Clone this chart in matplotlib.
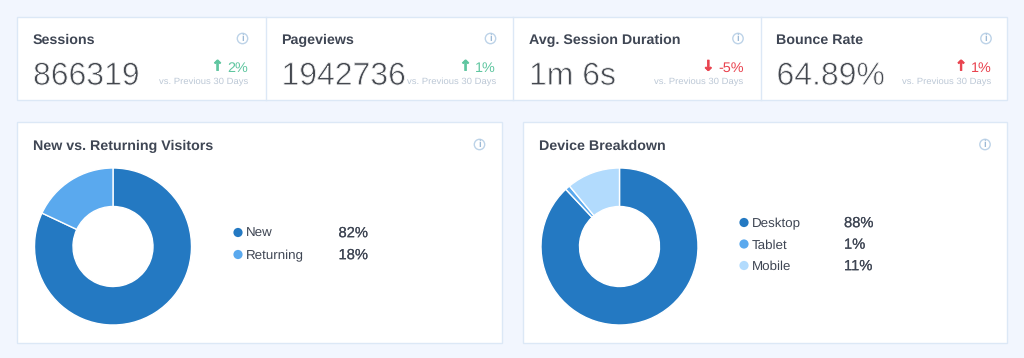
import matplotlib
matplotlib.use('Agg')
import matplotlib.pyplot as plt
import matplotlib.patheffects as pe
from matplotlib.patches import Rectangle, Circle

# ---- data ----
metric_titles = ['Sessions', 'Pageviews', 'Avg. Session Duration', 'Bounce Rate']
metric_values = ['866319', '1942736', '1m 6s', '64.89%']
metric_deltas = ['2%', '1%', '-5%', '1%']
metric_arrows = ['↑', '↑', '↓', '↑']
metric_good = [True, True, False, False]
compare_label = 'vs. Previous 30 Days'

visitor_title = 'New vs. Returning Visitors'
visitor_labels = ['New', 'Returning']
visitor_values = [82, 18]
visitor_colors = ['#2479C2', '#5AA9EE']

device_title = 'Device Breakdown'
device_labels = ['Desktop', 'Tablet', 'Mobile']
device_values = [88, 1, 11]
device_colors = ['#2479C2', '#5AA9EE', '#B2DBFD']

plt.rcParams['font.family'] = ['Liberation Sans', 'DejaVu Sans']
plt.rcParams['text.hinting'] = 'no_hinting'
plt.rcParams['text.hinting_factor'] = 8
W, H = 1024, 358
BG = '#F2F6FE'; BORDER = '#DCE8F6'; DARK = '#3F4654'; NUM = '#44484F'; MUTED = '#BCC8D6'
GREEN = '#5FC6A0'; RED = '#E9434F'; ICON = '#BDD3E8'

fig = plt.figure(figsize=(W/100, H/100), dpi=100, facecolor=BG)
ax = fig.add_axes([0, 0, 1, 1])
ax.set_xlim(0, W); ax.set_ylim(H, 0); ax.axis('off')
thin = [pe.Normal(), pe.Stroke(linewidth=0.6, foreground='white')]


def heavier(color, lw):
    return [pe.Stroke(linewidth=lw, foreground=color), pe.Normal()]


def card(x0, y0, x1, y1):
    ax.add_patch(Rectangle((x0, y0), x1-x0, y1-y0, fc='white', ec=BORDER, lw=1))


def info(cx, cy):
    ax.add_patch(Circle((cx, cy), 5.2, fc='white', ec=ICON, lw=1))
    ax.text(cx, cy+0.3, 'i', fontsize=7, color='#9DBAD6', ha='center', va='center', fontweight='bold')


card(16.5, 16.5, 1007, 100)
for dx in (265.5, 512.5, 760.5):
    ax.plot([dx, dx], [16.5, 100], color=BORDER, lw=1)

title_x = [33, 281.5, 529, 776.5]
right_x = [248, 496, 743.5, 991.5]
for i in range(4):
    ax.text(title_x[i], 44, metric_titles[i], fontsize=10.3, fontweight='bold', color=DARK, va='baseline', ha='left')
    ax.text(title_x[i], 84.8, metric_values[i], fontsize=23, color=NUM, va='baseline', ha='left', path_effects=thin)
    info(right_x[i]-5.5, 38.5)
    c = GREEN if metric_good[i] else RED
    t = ax.text(right_x[i], 71.5, metric_deltas[i], fontsize=10.4, color=c, va='baseline', ha='right')
    fig.canvas.draw()
    bb = t.get_window_extent()
    ax.text(bb.x0-3.5, 66.5, metric_arrows[i], fontsize=10.5, fontweight='bold', color=c, va='center', ha='right',
            family='DejaVu Sans', path_effects=heavier(c, 0.5))
    ax.text(right_x[i], 84, compare_label, fontsize=6.8, color=MUTED, va='baseline', ha='right')

card(16.5, 122, 502, 343)
card(522.5, 122, 1007, 343)
ax.text(33, 150, visitor_title, fontsize=10.3, fontweight='bold', color=DARK, va='baseline')
ax.text(539, 150, device_title, fontsize=10.3, fontweight='bold', color=DARK, va='baseline')
info(479.5, 144.5)
info(985, 144.5)


def donut(cx, cy, r, values, colors):
    a = fig.add_axes([(cx-r-1)/W, 1-(cy+r+1)/H, (2*r+2)/W, (2*r+2)/H])
    a.pie(values, colors=colors, startangle=90, counterclock=False, radius=r/(r+1),
          wedgeprops=dict(width=(r-40)/(r+1), edgecolor='white', linewidth=1))
    a.set_xlim(-1, 1); a.set_ylim(-1, 1)


donut(113, 246.5, 78.5, visitor_values, visitor_colors)
donut(619.5, 246.5, 78.5, device_values, device_colors)


def legend(dot_x, text_x, val_x, ys, labels, values, colors):
    for y, l, v, c in zip(ys, labels, values, colors):
        ax.add_patch(Circle((dot_x, y), 4.6, fc=c, ec='none'))
        ax.text(text_x, y+4.5, l, fontsize=9.6, color=DARK, va='baseline')
        ax.text(val_x, y+4.7, f'{v}%', fontsize=10.6, color=DARK, va='baseline', path_effects=heavier(DARK, 0.1))


legend(238, 246, 338.5, [232.5, 254.5], visitor_labels, visitor_values, visitor_colors)
legend(744, 752, 844, [222.5, 244, 265.5], device_labels, device_values, device_colors)

fig.savefig('out.png', dpi=100, facecolor=BG)
